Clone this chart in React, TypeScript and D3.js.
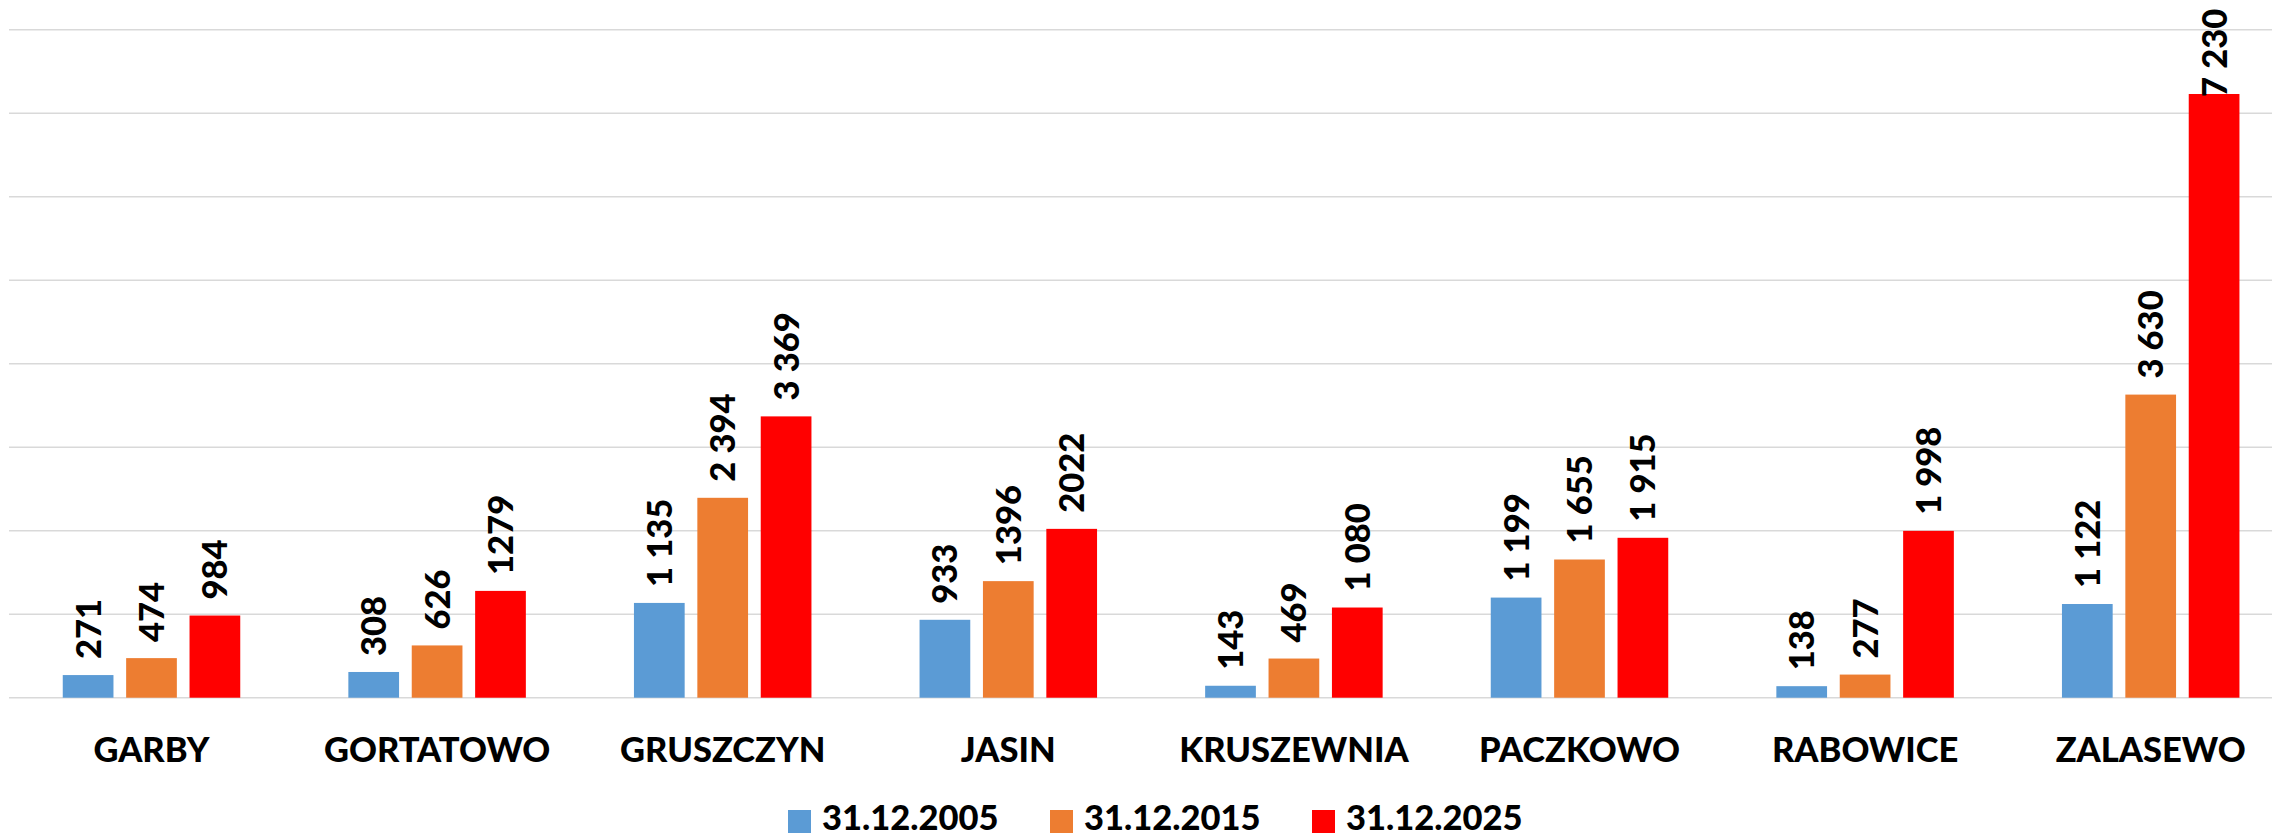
import React from "react";
import * as d3 from "d3";

const categories = ["GARBY", "GORTATOWO", "GRUSZCZYN", "JASIN", "KRUSZEWNIA", "PACZKOWO", "RABOWICE", "ZALASEWO"];
const seriesNames = ["31.12.2005", "31.12.2015", "31.12.2025"];
const values2005 = [271, 308, 1135, 933, 143, 1199, 138, 1122];
const values2015 = [474, 626, 2394, 1396, 469, 1655, 277, 3630];
const values2025 = [984, 1279, 3369, 2022, 1080, 1915, 1998, 7230];
const labels2005 = ["271", "308", "1 135", "933", "143", "1 199", "138", "1 122"];
const labels2015 = ["474", "626", "2 394", "1396", "469", "1 655", "277", "3 630"];
const labels2025 = ["984", "1279", "3 369", "2022", "1 080", "1 915", "1 998", "7 230"];
const yTicks = [0, 1000, 2000, 3000, 4000, 5000, 6000, 7000, 8000];
const colors = ["#5B9BD5", "#ED7D31", "#FF0000"];

const W = 2272;
const H = 836;
const FONT = "Lato, 'Open Sans', sans-serif";
const FS = 34.5;

export default function App() {
  const series = [values2005, values2015, values2025];
  const labels = [labels2005, labels2015, labels2025];
  const plotLeft = 8.7;
  const band = 285.6;
  const x = d3.scaleBand<string>().domain(categories).range([plotLeft, plotLeft + band * categories.length]).padding(0);
  const xs = d3.scaleBand<string>().domain(seriesNames).range([-88.75, 88.75]).paddingInner(0.2).paddingOuter(0);
  const y = d3.scaleLinear().domain([0, 8000]).range([697.7, 29.7]);
  const estLen = (s: string) => {
    let l = 0;
    for (const c of s) l += c === " " ? 0.2 * FS : 0.58 * FS;
    return l;
  };
  return (
    <svg width={W} height={H} style={{ position: "absolute", left: 0, top: 0, background: "#fff" }}>
      <g>
        {yTicks.map((t) => (
          <line key={t} x1={9} x2={W} y1={y(t)} y2={y(t)} stroke="#d9d9d9" strokeWidth={1.6} />
        ))}
      </g>
      {categories.map((c, ci) => {
        const cx = (x(c) ?? 0) + x.bandwidth() / 2;
        return (
          <g key={c}>
            {seriesNames.map((s, si) => {
              const v = series[si][ci];
              const bx = cx + (xs(s) ?? 0);
              const bw = xs.bandwidth();
              const top = y(v);
              const txt = labels[si][ci];
              let ly = top - 16;
              const len = estLen(txt);
              if (ly - len < 10) ly = 10 + len;
              return (
                <g key={s}>
                  <rect x={bx} y={top} width={bw} height={y(0) - top} fill={colors[si]} />
                  <text
                    transform={`translate(${bx + bw / 2},${ly}) rotate(-90)`}
                    dy="0.36em"
                    fontFamily={FONT}
                    fontWeight={900}
                    fontSize={FS}
                    fill="#000"
                  >
                    {txt}
                  </text>
                </g>
              );
            })}
            <text x={cx} y={761.7} textAnchor="middle" fontFamily={FONT} fontWeight={900} fontSize={FS} fill="#000">
              {c}
            </text>
          </g>
        );
      })}
      <g>
        {seriesNames.map((s, si) => {
          const lx = 788 + si * 262;
          return (
            <g key={s}>
              <rect x={lx} y={810} width={23} height={23} fill={colors[si]} />
              <text x={lx + 34} y={830} fontFamily={FONT} fontWeight={900} fontSize={FS} fill="#000">
                {s}
              </text>
            </g>
          );
        })}
      </g>
    </svg>
  );
}
